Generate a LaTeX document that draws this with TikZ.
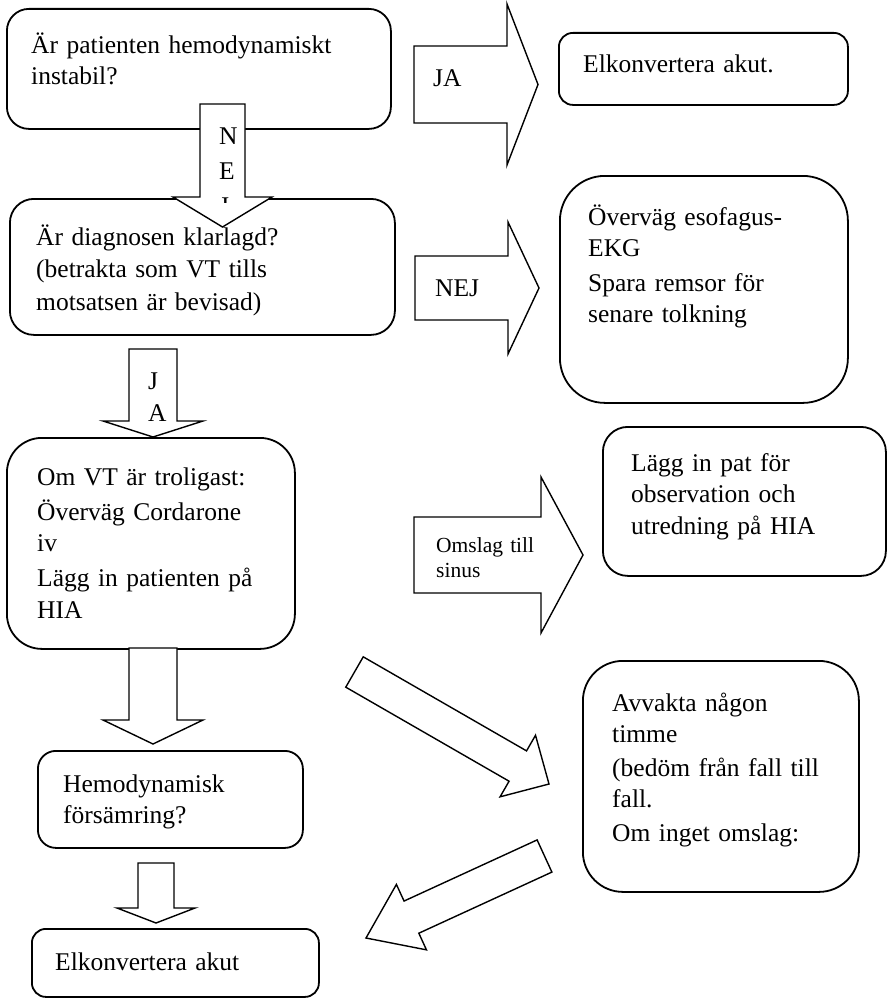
\documentclass[tikz,border=0pt]{standalone}
\usepackage{fontspec}
\setmainfont{Liberation Serif}
\usetikzlibrary{calc}

\newcommand\bodysize{\fontsize{25.5}{31.5}\selectfont}
\newcommand\labelsize{\fontsize{21.5}{25}\selectfont}

% Outlined block arrow: #1 name, #2 tail, #3 tip,
% #4 shaft half width, #5 head half width, #6 head length
\newcommand\blockarrow[6]{%
  \coordinate (#1-base) at ($(#3)!#6!(#2)$);
  \draw[barrow] ($(#2)!#4!90:(#3)$) -- ($(#1-base)!#4!90:(#3)$)
    -- ($(#1-base)!#5!90:(#3)$) -- (#3)
    -- ($(#1-base)!#5!-90:(#3)$) -- ($(#1-base)!#4!-90:(#3)$)
    -- ($(#2)!#4!-90:(#3)$) -- cycle;
}

\begin{document}
\begin{tikzpicture}[x=1pt, y=-1pt,
  box/.style={draw, line width=1.8pt, fill=white, inner sep=0pt, anchor=north west},
  barrow/.style={draw, line width=1.4pt, fill=white, line join=miter},
  txt/.style={anchor=base west, inner sep=0pt, text width=320pt, align=left, font=\bodysize},
  lbl/.style={anchor=base west, inner sep=0pt, font=\bodysize}]

\useasboundingbox (0,0) rectangle (890,998);

% question and action boxes
\node[box, rounded corners=22pt, minimum width=384pt, minimum height=120pt] (q1) at (6,8) {};
\node[box, rounded corners=14pt, minimum width=289pt, minimum height=72pt] (e1) at (558,32) {};
\node[box, rounded corners=24pt, minimum width=385pt, minimum height=136pt] (q2) at (9,198) {};
\node[box, rounded corners=45pt, minimum width=288pt, minimum height=227pt] (ov) at (559,175) {};
\node[box, rounded corners=35pt, minimum width=288pt, minimum height=211pt] (q3) at (6,437) {};
\node[box, rounded corners=25pt, minimum width=283pt, minimum height=149pt] (lg) at (602,426) {};
\node[box, rounded corners=18pt, minimum width=265pt, minimum height=97pt] (q4) at (37,750) {};
\node[box, rounded corners=14pt, minimum width=287pt, minimum height=68pt] (q5) at (31,928) {};
\node[box, rounded corners=40pt, minimum width=276pt, minimum height=231pt] (av) at (582,660) {};

% arrow end points
\coordinate (a1t) at (414,84.5);  \coordinate (a1h) at (538,84.5);
\coordinate (a2t) at (222.5,104); \coordinate (a2h) at (222.5,227);
\coordinate (a3t) at (415,288);   \coordinate (a3h) at (539,288);
\coordinate (a4t) at (153,349);   \coordinate (a4h) at (153,437);
\coordinate (a5t) at (414,555);   \coordinate (a5h) at (583,555);
\coordinate (a6t) at (153,648);   \coordinate (a6h) at (153,744);
\coordinate (a7t) at (156,863);   \coordinate (a7h) at (156,923);
\coordinate (a8t) at (354.5,672); \coordinate (a8h) at (549,784);
\coordinate (a9t) at (544.5,856); \coordinate (a9h) at (366,938);

\blockarrow{a1}{a1t}{a1h}{38.5pt}{80.5pt}{31pt}
\blockarrow{a2}{a2t}{a2h}{22.5pt}{49.5pt}{30pt}
\blockarrow{a3}{a3t}{a3h}{32pt}{66pt}{31pt}
\blockarrow{a4}{a4t}{a4h}{24pt}{50pt}{16pt}
\blockarrow{a5}{a5t}{a5h}{38pt}{78pt}{42pt}
\blockarrow{a6}{a6t}{a6h}{24pt}{50pt}{24pt}
\blockarrow{a7}{a7t}{a7h}{18pt}{39pt}{15pt}
\blockarrow{a8}{a8t}{a8h}{17.5pt}{35.5pt}{36pt}
\blockarrow{a9}{a9t}{a9h}{17.7pt}{36pt}{50pt}

% arrow labels
\node[lbl] (ja1) at (433,86) {JA};
\begin{scope}
  \clip (200,104) rectangle (245,202);
  \node[txt, text width=30pt, font=\fontsize{25.5}{35}\selectfont] (nej1) at (219,144) {N\\E\\J};
\end{scope}
\node[lbl] (nej2) at (435,296) {NEJ};
\node[txt, text width=30pt, font=\fontsize{25.5}{32.5}\selectfont] (ja2) at (148,389) {J\\A};
\node[txt, text width=140pt, font=\labelsize] (oms) at (436,552) {Omslag till\\sinus};

% box texts
\node[txt] (t1) at (31,53) {Är patienten hemodynamiskt\\instabil?};
\node[txt] (te1) at (583,73) {Elkonvertera akut.};
\node[txt, font=\fontsize{25.5}{32.5}\selectfont] (t2) at (36,245) {Är diagnosen klarlagd?\\(betrakta som VT tills\\motsatsen är bevisad)};
\node[txt] (tov) at (588,225) {Överväg esofagus-\\EKG\\[3pt]Spara remsor för\\senare tolkning};
\node[txt] (t3) at (37,485) {Om VT är troligast:\\[3.5pt]Överväg Cordarone\\iv\\[3.5pt]Lägg in patienten på\\HIA};
\node[txt] (tlg) at (631,471) {Lägg in pat för\\observation och\\utredning på HIA};
\node[txt] (t4) at (63,792) {Hemodynamisk\\försämring?};
\node[txt] (t5) at (55,970) {Elkonvertera akut};
\node[txt] (tav) at (612,711) {Avvakta någon\\timme\\[2pt](bedöm från fall till\\fall.\\[2pt]Om inget omslag:};

\end{tikzpicture}
\end{document}
